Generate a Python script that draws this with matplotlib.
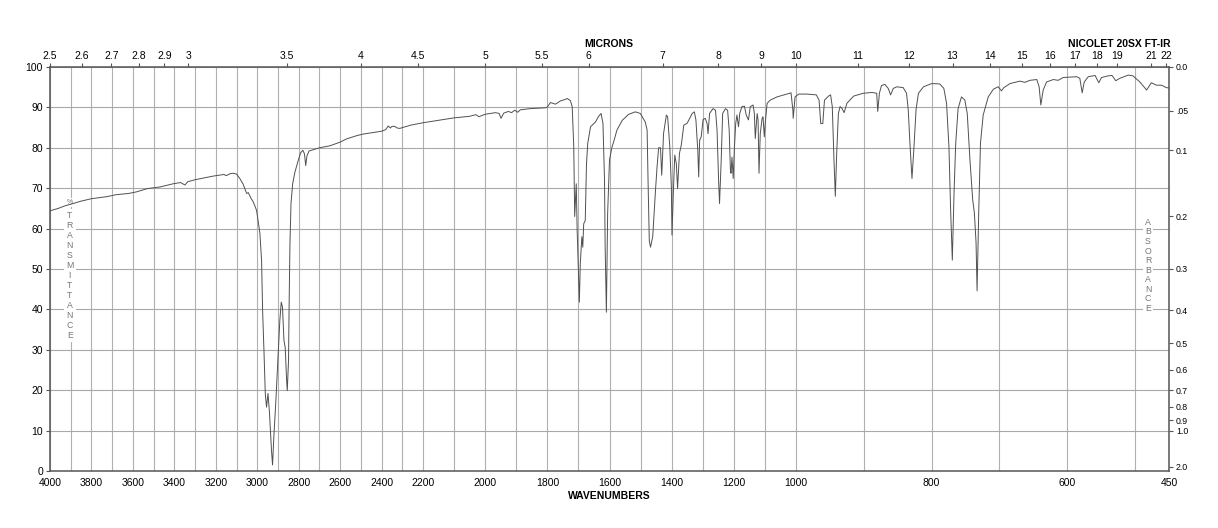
import numpy as np
import matplotlib
matplotlib.use("Agg")
import matplotlib.pyplot as plt

plt.rcParams["font.family"] = ["Liberation Sans", "DejaVu Sans"]

# spectrum: wavenumber (cm-1) and %T
wavenumbers = [
    4000, 3960, 3930, 3889, 3850, 3800, 3727, 3680, 3620, 3582, 3530, 3470, 3420, 3405,
    3370, 3349, 3335, 3300, 3250, 3212, 3160, 3150, 3130, 3116, 3100, 3084, 3068, 3051,
    3043, 3030, 3019, 3003, 2987, 2979, 2974, 2967, 2961, 2955, 2948, 2941, 2931, 2926,
    2920, 2910, 2899, 2891, 2884, 2878, 2871, 2865, 2858, 2855, 2849, 2846, 2842, 2837,
    2829, 2818, 2802, 2790, 2780, 2772, 2766, 2760, 2750, 2700, 2649, 2600, 2569, 2520,
    2489, 2440, 2400, 2380, 2368, 2358, 2350, 2336, 2325, 2312, 2260, 2200, 2150, 2101,
    2050, 2030, 2020, 2000, 1967, 1955, 1949, 1940, 1925, 1915, 1905, 1895, 1887, 1854,
    1806, 1800, 1790, 1774, 1758, 1745, 1736, 1726, 1720, 1715, 1712, 1707, 1704, 1699,
    1697, 1694, 1689, 1686, 1683, 1678, 1674, 1670, 1661, 1645, 1635, 1627, 1621, 1616,
    1614, 1610, 1606, 1600, 1592, 1588, 1576, 1559, 1538, 1517, 1501, 1485, 1479, 1476,
    1472, 1468, 1461, 1452, 1447, 1442, 1436, 1432, 1426, 1417, 1413, 1406, 1401, 1399,
    1394, 1390, 1385, 1381, 1375, 1369, 1361, 1350, 1334, 1327, 1322, 1316, 1313, 1310,
    1305, 1299, 1292, 1286, 1283, 1278, 1267, 1259, 1254, 1249, 1246, 1241, 1236, 1227,
    1220, 1215, 1211, 1209, 1206, 1202, 1198, 1194, 1190, 1185, 1181, 1174, 1166, 1160,
    1153, 1147, 1138, 1134, 1131, 1125, 1122, 1119, 1115, 1109, 1106, 1102, 1099, 1093,
    1083, 1061, 1030, 1016, 1010, 1009, 1003, 996, 984, 970, 966, 963.5, 960.5, 958,
    952, 949, 946.5, 944, 942, 940, 937.5, 935, 932, 929, 925, 915, 901, 888,
    881, 879.5, 877, 874, 869, 864, 860.5, 856.5, 851.5, 842, 837, 834.5, 832, 829,
    826, 823, 819.5, 812, 800, 788, 782, 778, 774.5, 772, 769.5, 767, 764.5, 761,
    756, 751, 747.5, 743.5, 739.5, 737, 734.5, 733, 730.5, 728, 724, 716.5, 709, 702,
    697, 693.5, 684.5, 670, 662.5, 655, 645, 641.5, 639, 635.5, 630.5, 620.5, 613.5, 606,
    586, 581.5, 578, 575, 569, 559, 553.5, 549.5, 540, 534, 528.5, 522.5, 510, 503,
    493, 483, 476, 468.5, 461, 454, 450,
]
transmittance = [
    64.4, 65.0, 65.6, 66.2, 66.8, 67.4, 67.9, 68.4, 68.7, 69.1, 69.9, 70.3, 70.9, 71.1,
    71.4, 70.8, 71.6, 72.1, 72.6, 73.0, 73.4, 73.1, 73.6, 73.7, 73.5, 72.4, 71.0, 68.7,
    68.9, 67.5, 66.6, 64.5, 58.8, 52.1, 39.7, 29.0, 19.0, 15.8, 19.2, 14.5, 5.0, 1.5,
    8.3, 17.4, 29.0, 37.2, 41.8, 40.5, 32.3, 30.6, 22.3, 19.9, 27.3, 41.4, 56.3, 66.2,
    71.1, 74.0, 76.9, 78.8, 79.4, 78.5, 75.6, 78.0, 79.2, 80.0, 80.5, 81.4, 82.2, 83.0,
    83.4, 83.8, 84.1, 84.5, 85.4, 84.9, 85.3, 85.3, 84.9, 84.8, 85.6, 86.2, 86.8, 87.4,
    87.8, 88.2, 87.7, 88.3, 88.7, 88.5, 87.3, 88.6, 89.0, 88.7, 89.3, 88.8, 89.4, 89.7,
    89.9, 90.1, 91.2, 90.8, 91.6, 91.9, 92.2, 91.7, 90.2, 80.3, 63.0, 71.1, 59.5, 47.2,
    41.8, 51.3, 58.0, 55.4, 61.2, 62.0, 76.1, 81.1, 85.2, 86.4, 87.8, 88.5, 86.0, 71.9,
    55.4, 39.3, 63.7, 77.0, 80.2, 81.1, 84.4, 86.8, 88.3, 88.9, 88.5, 86.4, 84.4, 71.9,
    57.0, 55.4, 58.0, 69.5, 75.3, 80.0, 80.0, 73.2, 83.6, 88.1, 87.7, 80.3, 70.3, 58.4,
    70.3, 78.2, 76.1, 69.9, 78.6, 80.7, 85.6, 86.1, 88.5, 88.9, 86.9, 79.4, 72.8, 81.9,
    82.7, 87.0, 87.3, 86.0, 83.5, 88.5, 89.7, 89.3, 84.4, 71.9, 66.2, 76.1, 88.5, 89.7,
    89.3, 84.4, 74.5, 73.7, 77.7, 72.4, 80.3, 86.0, 88.1, 85.2, 88.5, 90.2, 90.3, 88.1,
    86.9, 90.2, 90.6, 88.5, 82.3, 88.5, 86.9, 73.7, 83.5, 87.3, 87.7, 82.7, 86.0, 91.0,
    91.8, 92.6, 93.3, 93.6, 89.3, 87.3, 92.6, 93.3, 93.3, 93.1, 91.8, 86.0, 86.0, 91.8,
    92.8, 93.1, 90.2, 77.0, 68.0, 78.6, 88.5, 90.2, 89.7, 88.7, 91.0, 92.8, 93.5, 93.7,
    93.5, 89.0, 93.5, 95.4, 95.7, 94.7, 93.1, 94.7, 95.1, 94.9, 93.5, 89.4, 81.1, 72.4,
    80.3, 89.4, 93.5, 95.1, 95.9, 95.8, 94.7, 91.0, 80.3, 64.6, 52.2, 68.7, 81.1, 89.7,
    92.6, 91.8, 88.5, 77.0, 67.2, 63.9, 56.5, 44.6, 64.6, 81.1, 88.1, 92.6, 94.5, 95.1,
    94.1, 94.9, 95.9, 96.5, 96.2, 96.7, 96.9, 95.1, 90.6, 94.3, 96.3, 96.9, 96.7, 97.4,
    97.6, 97.2, 93.6, 96.3, 97.6, 97.9, 96.1, 97.4, 97.8, 97.9, 96.6, 97.2, 98.0, 97.8,
    96.3, 94.3, 96.1, 95.5, 95.5, 94.9, 94.8,
]

wn_ticks = [4000, 3800, 3600, 3400, 3200, 3000, 2800, 2600, 2400, 2200,
            2000, 1800, 1600, 1400, 1200, 1000, 800, 600, 450]
micron_ticks = [2.5, 2.6, 2.7, 2.8, 2.9, 3, 3.5, 4, 4.5, 5, 5.5, 6, 7, 8, 9, 10,
                11, 12, 13, 14, 15, 16, 17, 18, 19, 21, 22]
absorbance_ticks = [0.0, 0.05, 0.1, 0.2, 0.3, 0.4, 0.5, 0.6, 0.7, 0.8, 0.9, 1.0, 2.0]
absorbance_labels = ["0.0", ".05", "0.1", "0.2", "0.3", "0.4", "0.5", "0.6",
                     "0.7", "0.8", "0.9", "1.0", "2.0"]

# chart paper: three equal-width panels 4000-2200, 2200-1000, 1000-450
WN_EDGES = [450, 1000, 2200, 4000]


def fwd(w):
    return np.interp(w, WN_EDGES, [0, 1, 2, 3])


def inv(u):
    return np.interp(u, [0, 1, 2, 3], WN_EDGES)


fig = plt.figure(figsize=(12.18, 5.28), dpi=100)
ax = fig.add_axes([50 / 1218, 1 - 471 / 528, 1119 / 1218, 404 / 528])

ax.set_xscale("function", functions=(fwd, inv))
ax.set_xlim(4000, 450)
ax.set_ylim(0, 100)

ax.plot(wavenumbers, transmittance, color="#505050", lw=0.7, zorder=3)

ax.set_xticks(wn_ticks)
ax.set_xticklabels([str(t) for t in wn_ticks])
ax.set_xticks(np.arange(500, 4000, 100), minor=True)
ax.set_yticks(np.arange(0, 101, 10))
ax.grid(True, which="both", axis="x", color="#b0b0b0", lw=0.8)
ax.grid(True, which="major", axis="y", color="#a8a8a8", lw=0.8)
ax.tick_params(axis="x", which="both", length=0, pad=5, labelsize=7.5)
ax.tick_params(axis="y", length=3, width=0.8, pad=2, labelsize=7.5, color="#555555")

for s in ax.spines.values():
    s.set_color("#555555")
    s.set_linewidth(1.1)

top = ax.twiny()
top.set_xscale("function", functions=(fwd, inv))
top.set_xlim(4000, 450)
top.set_xticks([10000 / m for m in micron_ticks])
top.set_xticklabels([f"{m:g}" for m in micron_ticks])
top.set_xticks([], minor=True)
top.tick_params(axis="x", length=3, width=0.8, pad=1, labelsize=7.5, color="#555555")
for s in top.spines.values():
    s.set_visible(False)

right = ax.twinx()
right.set_ylim(0, 100)
right.set_yticks([100 * 10 ** (-a) for a in absorbance_ticks])
right.set_yticklabels(absorbance_labels)
right.tick_params(axis="y", length=3, width=0.8, pad=2, labelsize=6.3, color="#555555")
for s in right.spines.values():
    s.set_visible(False)

# axis captions sit on the paper, under the trace
ax.text(3904, 66.5, "%", ha="center", va="center", fontsize=5, color="#777777",
        bbox=dict(facecolor="white", edgecolor="none", pad=0.5), zorder=2)
ax.text(3904, 48.3, "\n".join("TRANSMITTANCE"), ha="center", va="center", fontsize=6.3,
        linespacing=1.14, color="#777777",
        bbox=dict(facecolor="white", edgecolor="none", pad=1.5), zorder=2)
ax.text(481, 50.9, "\n".join("ABSORBANCE"), ha="center", va="center", fontsize=6.3,
        linespacing=1.08, color="#777777",
        bbox=dict(facecolor="white", edgecolor="none", pad=1.5), zorder=2)

fig.text(609 / 1218, 1 - 44 / 528, "MICRONS", ha="center", va="center",
         fontsize=7.5, fontweight="bold")
fig.text(1170 / 1218, 1 - 44 / 528, "NICOLET 20SX FT-IR", ha="right", va="center",
         fontsize=7.5, fontweight="bold")
fig.text(609 / 1218, 1 - 496 / 528, "WAVENUMBERS", ha="center", va="center",
         fontsize=7.5, fontweight="bold")

fig.savefig("out.png", dpi=100)
